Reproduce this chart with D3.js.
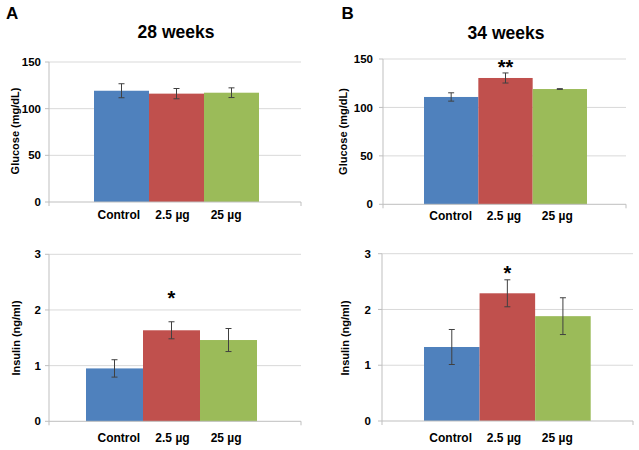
<!DOCTYPE html>
<html>
<head>
<meta charset="utf-8">
<script src="https://cdn.jsdelivr.net/npm/d3@7"></script>
<style>
html,body{margin:0;padding:0;background:#fff;}
svg{display:block;}
text{font-family:"Liberation Sans",Arial,sans-serif;font-weight:bold;fill:#000;}
</style>
</head>
<body>
<svg id="chart" width="639" height="450"></svg>
<script>
// ---- data ----
const groups = ["Control", "2.5 µg", "25 µg"];
const colors = ["#4f81bd", "#c0504d", "#9bbb59"];
const glucoseTicks = [0, 50, 100, 150];
const insulinTicks = [0, 1, 2, 3];

const glucose28 = [119.2, 116.1, 117.1];
const glucose28Err = [7.5, 5.5, 5.2];
const glucose34 = [110.8, 130.4, 119.0];
const glucose34Err = [4.3, 5.2, 0.4];
const insulin28 = [0.95, 1.635, 1.46];
const insulin28Err = [0.156, 0.153, 0.207];
const insulin34 = [1.327, 2.29, 1.88];
const insulin34Err = [0.314, 0.242, 0.33];

const sig28Glucose = ["", "", ""];
const sig34Glucose = ["", "**", ""];
const sig28Insulin = ["", "*", ""];
const sig34Insulin = ["", "*", ""];

// ---- layout ----
const svg = d3.select("#chart");

const panels = [
  {vals: glucose28, err: glucose28Err, sig: sig28Glucose, ticks: glucoseTicks, max: 150,
   ax: [49, 301], yr: [202, 62], bars: [94, 259], labs: [92, 253], tickX: 41,
   ylab: "Glucose (mg/dL)", ylabX: 18.5, ylabY: 131, xlabY: 219, sigY: 0},
  {vals: glucose34, err: glucose34Err, sig: sig34Glucose, ticks: glucoseTicks, max: 150,
   ax: [383, 626], yr: [204.3, 59], bars: [424, 587], labs: [424, 584], tickX: 373,
   ylab: "Glucose (mg/dL)", ylabX: 346.5, ylabY: 131.5, xlabY: 220, sigY: 74},
  {vals: insulin28, err: insulin28Err, sig: sig28Insulin, ticks: insulinTicks, max: 3,
   ax: [49, 301], yr: [421.3, 254.3], bars: [86, 257], labs: [92, 253], tickX: 41,
   ylab: "Insulin (ng/ml)", ylabX: 19.5, ylabY: 338, xlabY: 442, sigY: 305},
  {vals: insulin34, err: insulin34Err, sig: sig34Insulin, ticks: insulinTicks, max: 3,
   ax: [382, 633], yr: [421, 253.7], bars: [424, 590.7], labs: [424, 584], tickX: 371,
   ylab: "Insulin (ng/ml)", ylabX: 348.5, ylabY: 338, xlabY: 442, sigY: 280}
];

panels.forEach(p => {
  const g = svg.append("g");
  const y = d3.scaleLinear().domain([0, p.max]).range(p.yr);
  const x = d3.scaleBand().domain(groups).range(p.bars).padding(0);
  const xl = d3.scaleBand().domain(groups).range(p.labs).padding(0);

  // gridlines
  g.selectAll(".grid").data(p.ticks.filter(t => t > 0)).enter().append("line")
    .attr("x1", p.ax[0]).attr("x2", p.ax[1])
    .attr("y1", d => y(d)).attr("y2", d => y(d))
    .attr("stroke", "#d9d9d9").attr("stroke-width", 1);

  // y axis line + ticks
  g.append("line").attr("x1", p.ax[0]).attr("x2", p.ax[0])
    .attr("y1", y(0)).attr("y2", y(p.max)).attr("stroke", "#bfbfbf");
  g.selectAll(".yt").data(p.ticks).enter().append("line")
    .attr("x1", p.ax[0] - 4).attr("x2", p.ax[0])
    .attr("y1", d => y(d)).attr("y2", d => y(d)).attr("stroke", "#bfbfbf");
  g.selectAll(".yl").data(p.ticks).enter().append("text")
    .attr("x", p.tickX).attr("y", d => y(d)).attr("dy", "0.36em")
    .attr("text-anchor", "end").style("font-size", "11.5px")
    .text(d => d);

  // bars
  g.selectAll(".bar").data(p.vals).enter().append("rect")
    .attr("x", (d, i) => x(groups[i]))
    .attr("width", x.bandwidth())
    .attr("y", d => y(d))
    .attr("height", d => y(0) - y(d))
    .attr("fill", (d, i) => colors[i]);

  // x axis line + end ticks
  g.append("line").attr("x1", p.ax[0]).attr("x2", p.ax[1])
    .attr("y1", y(0)).attr("y2", y(0)).attr("stroke", "#bfbfbf");
  [p.ax[0], p.ax[1]].forEach(xx => {
    g.append("line").attr("x1", xx).attr("x2", xx)
      .attr("y1", y(0)).attr("y2", y(0) + 4).attr("stroke", "#bfbfbf");
  });

  // error bars
  p.vals.forEach((v, i) => {
    const cx = x(groups[i]) + x.bandwidth() / 2;
    const e = p.err[i];
    const eg = g.append("g").attr("stroke", "#404040").attr("stroke-width", 1);
    eg.append("line").attr("x1", cx).attr("x2", cx).attr("y1", y(v - e)).attr("y2", y(v + e));
    eg.append("line").attr("x1", cx - 3).attr("x2", cx + 3).attr("y1", y(v - e)).attr("y2", y(v - e));
    eg.append("line").attr("x1", cx - 3).attr("x2", cx + 3).attr("y1", y(v + e)).attr("y2", y(v + e));
    if (p.sig[i]) {
      g.append("text").attr("x", cx).attr("y", p.sigY)
        .attr("text-anchor", "middle").style("font-size", "20px")
        .text(p.sig[i]);
    }
  });

  // x labels
  g.selectAll(".xl").data(groups).enter().append("text")
    .attr("x", d => xl(d) + xl.bandwidth() / 2).attr("y", p.xlabY)
    .attr("text-anchor", "middle").style("font-size", "12px")
    .text(d => d);

  // y label
  g.append("text")
    .attr("transform", `translate(${p.ylabX},${p.ylabY}) rotate(-90)`)
    .attr("text-anchor", "middle").style("font-size", "11px")
    .text(p.ylab);
});

// titles and panel letters
svg.append("text").attr("x", 176).attr("y", 37.7).attr("text-anchor", "middle")
  .style("font-size", "17.5px").text("28 weeks");
svg.append("text").attr("x", 506).attr("y", 39).attr("text-anchor", "middle")
  .style("font-size", "17.5px").text("34 weeks");
svg.append("text").attr("x", 6).attr("y", 19).style("font-size", "17px").text("A");
svg.append("text").attr("x", 341.5).attr("y", 19).style("font-size", "17px").text("B");
</script>
</body>
</html>
